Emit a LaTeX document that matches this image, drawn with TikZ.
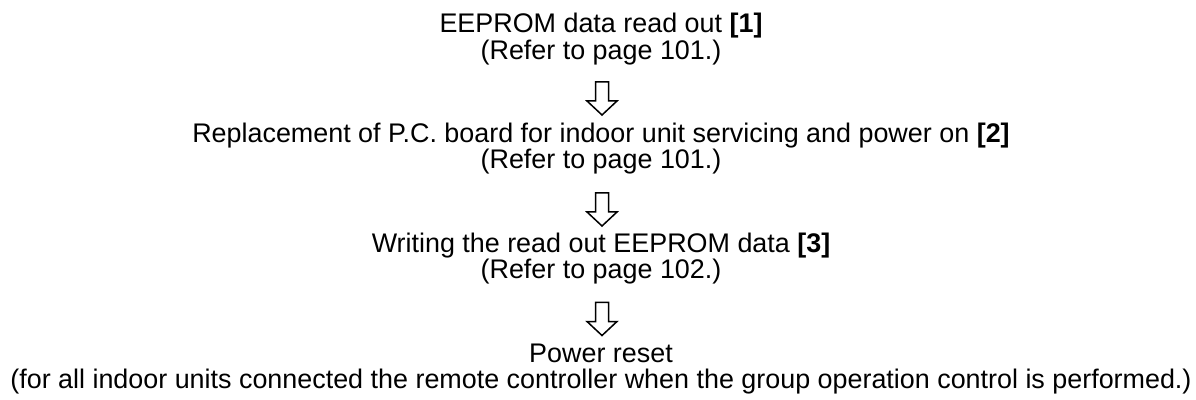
\documentclass[tikz,border=0pt]{standalone}
\usepackage{fontspec}
\setmainfont{Liberation Sans}
\begin{document}
\begin{tikzpicture}[x=1pt,y=1pt,
  txt/.style={anchor=base,inner sep=0pt,font=\fontsize{26.9}{30}\selectfont},
  blockarrow/.style={draw=black,line width=1.5pt,fill=white,line join=miter}]
\useasboundingbox (0,0) rectangle (1196,399);
\node[txt] (t1) at (601,366) {EEPROM data read out \textbf{[1]}};
\node[txt] (t2) at (601,339.5) {(Refer to page 101.)};
\node[txt] (t3) at (601,256.5) {Replacement of P.C. board for indoor unit servicing and power on \textbf{[2]}};
\node[txt] (t4) at (601,230) {(Refer to page 101.)};
\node[txt] (t5) at (601,146.5) {Writing the read out EEPROM data \textbf{[3]}};
\node[txt] (t6) at (601,120) {(Refer to page 102.)};
\node[txt] (t7) at (601,37) {Power reset};
\node[txt] (t8) at (601,11) {(for all indoor units connected the remote controller when the group operation control is performed.)};
\coordinate (a1) at (602,317);
\coordinate (a2) at (602,206);
\coordinate (a3) at (602,96.5);
\foreach \a in {a1,a2,a3}{
  \draw[blockarrow] (\a) ++(-6.5,0) -- ++(0,-19) -- ++(-8.5,0) -- ++(15,-14) -- ++(15,14) -- ++(-8.5,0) -- ++(0,19) -- cycle;
}
\end{tikzpicture}
\end{document}
